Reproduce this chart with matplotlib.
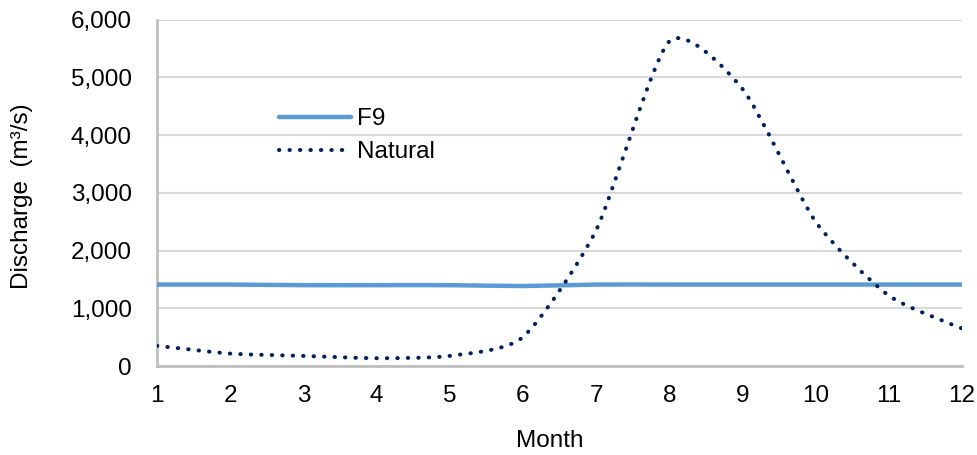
import numpy as np
import matplotlib
matplotlib.use("Agg")
import matplotlib.pyplot as plt
from matplotlib.path import Path
from matplotlib.patches import PathPatch
from matplotlib.lines import Line2D

months = [1, 2, 3, 4, 5, 6, 7, 8, 9, 10, 11, 12]
f9 = [1410, 1410, 1400, 1400, 1400, 1385, 1410, 1410, 1410, 1410, 1410, 1410]
natural = [350, 215, 175, 135, 175, 500, 2350, 5620, 4800, 2500, 1220, 650]
yticks = [0, 1000, 2000, 3000, 4000, 5000, 6000]

plt.rcParams["font.family"] = ["Liberation Sans", "DejaVu Sans"]
FS = 17.5
BLUE = "#5b9bd5"
NAVY = "#002060"
DOTS = (0, (0.1, 2.5))


def smooth_path(x, y, tension=0.11):
    """Cubic Bezier path through the points (Catmull-Rom style smoothing)."""
    x = np.asarray(x, float)
    y = np.asarray(y, float)
    n = len(x)
    verts = [(x[0], y[0])]
    codes = [Path.MOVETO]
    for i in range(n - 1):
        p0 = i - 1 if i > 0 else i
        p3 = i + 2 if i + 2 < n else i + 1
        c1 = (x[i] + (x[i + 1] - x[p0]) * tension, y[i] + (y[i + 1] - y[p0]) * tension)
        c2 = (x[i + 1] - (x[p3] - x[i]) * tension, y[i + 1] - (y[p3] - y[i]) * tension)
        verts += [c1, c2, (x[i + 1], y[i + 1])]
        codes += [Path.CURVE4] * 3
    return Path(verts, codes)


fig = plt.figure(figsize=(9.78, 4.55), dpi=100)
ax = fig.add_axes([0.1605, 0.1956, 0.8231, 0.7615])

ax.add_patch(PathPatch(smooth_path(months, f9), facecolor="none",
                       edgecolor=BLUE, linewidth=3.2, capstyle="butt", zorder=3))
ax.add_patch(PathPatch(smooth_path(months, natural), facecolor="none",
                       edgecolor=NAVY, linewidth=2.9, linestyle=DOTS,
                       capstyle="round", zorder=4))

ax.set_xlim(1, 12)
ax.set_ylim(0, 6000)
ax.set_xticks(months)
ax.set_yticks(yticks)
ax.set_yticklabels([f"{v:,}" for v in yticks])
ax.tick_params(length=0, labelsize=FS, colors="#000000")
ax.tick_params(axis="y", pad=18)
ax.tick_params(axis="x", pad=14)
ax.grid(axis="y", color="#d9d9d9", linewidth=1.5)
ax.set_axisbelow(True)
for side in ("top", "right"):
    ax.spines[side].set_visible(False)
for side in ("left", "bottom"):
    ax.spines[side].set_color("#bfbfbf")
    ax.spines[side].set_linewidth(2.0)

fig.text(0.5626, 1 - 441 / 455, "Month", fontsize=FS, ha="center", va="center")
fig.text(22 / 978, 0.568, "Discharge  (m³/s)", fontsize=FS, ha="center",
         va="center", rotation=90)

handles = [
    Line2D([], [], color=BLUE, linewidth=3.2, solid_capstyle="round"),
    Line2D([], [], color=NAVY, linewidth=2.9, linestyle=DOTS, dash_capstyle="round"),
]
ax.legend(handles, ["F9", "Natural"], loc="center left", bbox_to_anchor=(0.140, 0.665),
          borderaxespad=0, frameon=False, fontsize=FS, handlelength=2.96,
          handletextpad=0.25, labelspacing=0.45)

fig.savefig("out.png", dpi=100)
